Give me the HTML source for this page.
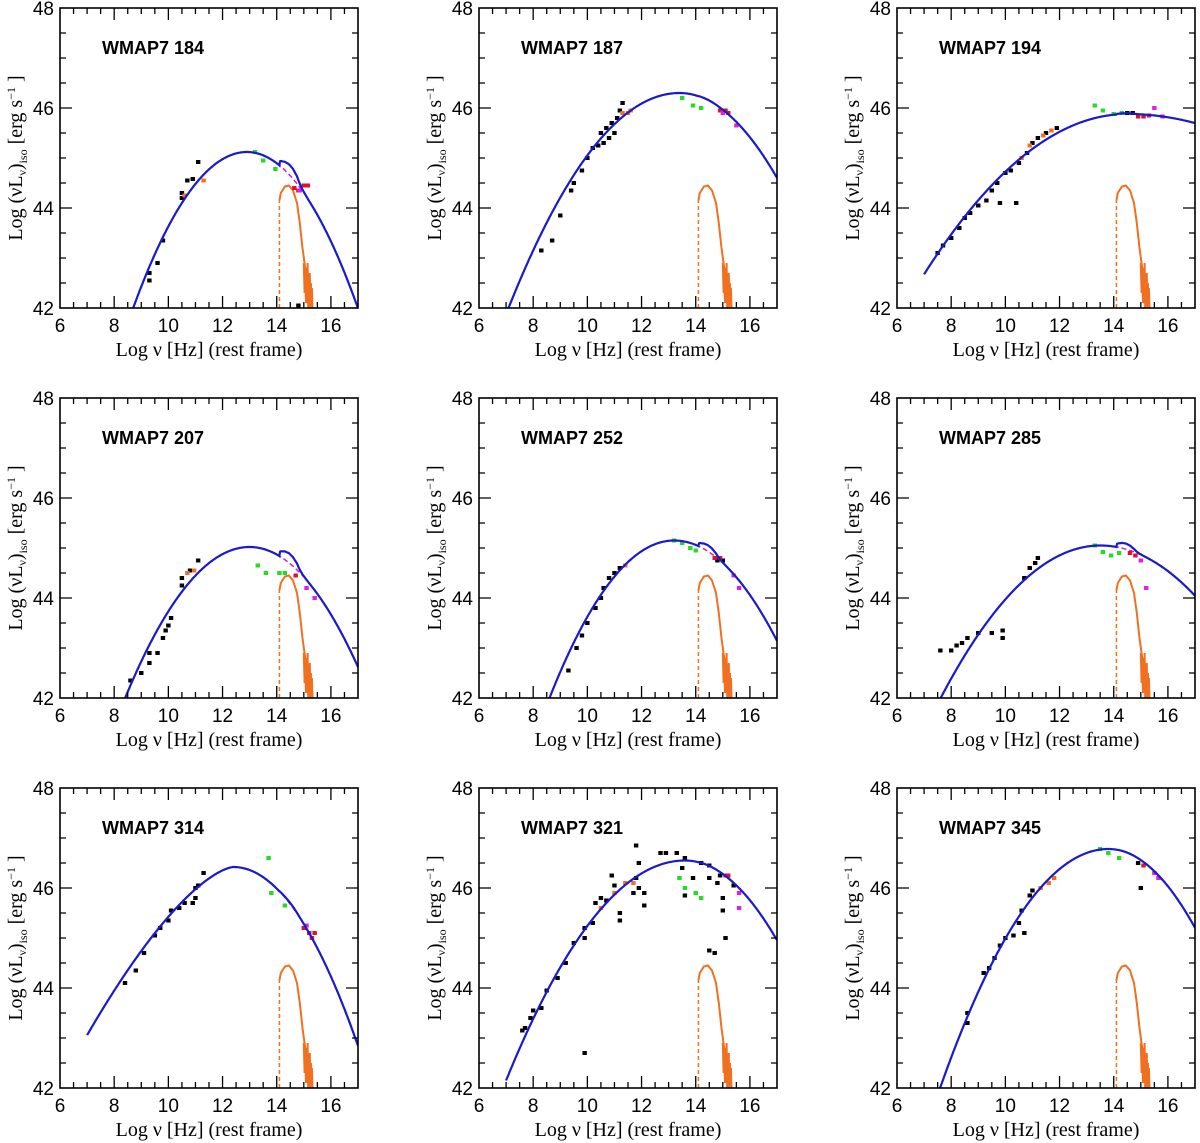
<!DOCTYPE html>
<html><head><meta charset="utf-8"><style>
html,body{margin:0;padding:0;background:#fff;overflow:hidden;width:1200px;height:1143px;}
svg{display:block;}
text{font-family:"Liberation Sans",sans-serif;fill:#000;}
.tl{font-size:19px;}
.ttl{font-family:"Liberation Serif",serif;font-size:20px;}
.lab{font-family:"Liberation Sans",sans-serif;font-weight:bold;font-size:18px;}
</style></head><body>
<svg id="fig" width="1200" height="1143" viewBox="0 0 1200 1143" xmlns="http://www.w3.org/2000/svg"></svg>
<script>
// ---- data ----
const panelNames = ["WMAP7 184","WMAP7 187","WMAP7 194","WMAP7 207","WMAP7 252","WMAP7 285","WMAP7 314","WMAP7 321","WMAP7 345"];
const peakX = [12.9,13.4,14.5,13.0,13.2,13.5,12.4,13.6,13.8];
const peakY = [45.12,46.3,45.88,45.02,45.15,45.05,46.42,46.55,46.78];
const curvL = [0.177,0.108,0.057,0.143,0.149,0.088,0.268,0.101,0.124];
const powL = [2,2,2,2,2,2,1.5,2,2];
const curvR = [0.186,0.131,0.029,0.15,0.139,0.082,0.169,0.138,0.154];
const startX = [6,6,7,6,6,6,7,7,6];
const diskX = [14.1,14.15,14.3,14.45,14.6,14.75,14.85,14.95,15.05,15.1,15.15];
const diskY = [44.15,44.3,44.43,44.45,44.35,44.1,43.7,43.2,42.8,42.5,42.1];
const noiseX = [15.0,15.03,15.05,15.08,15.1,15.12,15.14,15.16,15.18,15.2,15.22,15.24,15.26,15.28,15.3,15.32];
const noiseY = [42.9,42.3,42.7,42.1,42.8,42.2,42.9,42.0,42.6,42.1,42.7,42.0,42.5,42.2,42.4,42.0];
const colorMap = {k:"#000",g:"#22dd22",o:"#f07020",r:"#e0102a",m:"#e020e0"};
const pts = [
 [[9.3,42.7,'k'],[9.3,42.55,'k'],[9.6,42.9,'k'],[9.8,43.35,'k'],[10.5,44.3,'k'],[10.5,44.2,'k'],[10.7,44.55,'k'],[10.9,44.58,'k'],[11.1,44.92,'k'],[14.8,42.05,'k'],[10.6,44.25,'o'],[11.3,44.55,'o'],[13.2,45.12,'g'],[13.5,44.95,'g'],[13.95,44.78,'g'],[14.65,44.4,'r'],[14.8,44.35,'r'],[15.0,44.45,'r'],[15.15,44.45,'r'],[14.85,44.35,'m']],
 [[8.3,43.15,'k'],[8.7,43.35,'k'],[9.0,43.85,'k'],[9.4,44.35,'k'],[9.5,44.5,'k'],[9.8,44.75,'k'],[10,45,'k'],[10.2,45.2,'k'],[10.4,45.25,'k'],[10.5,45.5,'k'],[10.6,45.3,'k'],[10.7,45.6,'k'],[10.8,45.4,'k'],[10.9,45.7,'k'],[11.0,45.5,'k'],[11.1,45.8,'k'],[11.2,45.95,'k'],[11.3,46.1,'k'],[11.3,45.9,'o'],[11.5,45.9,'o'],[11.6,45.95,'o'],[13.5,46.2,'g'],[13.9,46.05,'g'],[14.2,46.0,'g'],[14.9,45.95,'r'],[15.1,45.95,'r'],[15.2,45.9,'r'],[15.5,45.65,'m'],[15.0,45.9,'m']],
 [[7.5,43.1,'k'],[7.7,43.25,'k'],[8.0,43.4,'k'],[8.3,43.6,'k'],[8.5,43.8,'k'],[8.7,43.9,'k'],[9,44.05,'k'],[9.3,44.15,'k'],[9.5,44.35,'k'],[9.7,44.5,'k'],[9.8,44.1,'k'],[10,44.7,'k'],[10.2,44.75,'k'],[10.4,44.1,'k'],[10.5,44.9,'k'],[10.8,45.1,'k'],[11,45.3,'k'],[11.2,45.4,'k'],[11.5,45.5,'k'],[11.9,45.6,'k'],[10.6,45.0,'o'],[10.9,45.25,'o'],[11.4,45.45,'o'],[11.7,45.55,'o'],[13.3,46.05,'g'],[13.6,45.95,'g'],[14.0,45.88,'g'],[14.3,45.9,'g'],[14.5,45.9,'k'],[14.7,45.9,'k'],[14.9,45.83,'r'],[15.1,45.83,'r'],[15.3,45.85,'r'],[15.5,46.0,'m'],[15.8,45.83,'m']],
 [[8.6,42.35,'k'],[9.0,42.5,'k'],[9.3,42.9,'k'],[9.3,42.7,'k'],[9.6,42.9,'k'],[9.8,43.2,'k'],[9.9,43.35,'k'],[10,43.45,'k'],[10.1,43.6,'k'],[10.5,44.4,'k'],[10.5,44.25,'k'],[10.8,44.55,'k'],[11.1,44.75,'k'],[10.7,44.5,'o'],[10.95,44.55,'o'],[13.3,44.65,'g'],[13.6,44.5,'g'],[14.1,44.5,'g'],[14.3,44.5,'g'],[14.7,44.45,'r'],[15.1,44.2,'m'],[15.4,44.0,'m']],
 [[9.3,42.55,'k'],[9.6,43.0,'k'],[9.8,43.25,'k'],[10.0,43.5,'k'],[10.3,43.8,'k'],[10.5,44.0,'k'],[10.6,44.2,'k'],[10.8,44.4,'k'],[11.0,44.5,'k'],[11.2,44.6,'k'],[15.0,44.75,'k'],[14.8,44.75,'k'],[11.4,44.65,'o'],[13.2,45.15,'g'],[13.5,45.1,'g'],[13.8,45.0,'g'],[14.0,44.95,'g'],[14.7,44.8,'r'],[14.9,44.8,'r'],[15.4,44.45,'m'],[15.6,44.2,'m']],
 [[7.6,42.95,'k'],[8.0,42.95,'k'],[8.2,43.05,'k'],[8.4,43.1,'k'],[8.6,43.2,'k'],[9.0,43.3,'k'],[9.5,43.3,'k'],[9.9,43.35,'k'],[9.9,43.2,'k'],[10.7,44.4,'k'],[10.9,44.6,'k'],[11.2,44.8,'k'],[11.1,44.7,'k'],[13.3,45.05,'g'],[13.6,44.92,'g'],[13.9,44.85,'g'],[14.2,44.9,'g'],[14.6,44.9,'r'],[14.8,44.85,'r'],[15.2,44.2,'m'],[15.0,44.75,'m']],
 [[8.4,44.1,'k'],[8.8,44.35,'k'],[9.1,44.7,'k'],[9.5,45.05,'k'],[9.7,45.2,'k'],[10,45.35,'k'],[10.1,45.55,'k'],[10.4,45.6,'k'],[10.6,45.7,'k'],[10.9,45.7,'k'],[11.0,45.8,'k'],[11.1,46.05,'k'],[11.3,46.3,'k'],[11.0,46.0,'k'],[13.7,46.6,'g'],[13.8,45.9,'g'],[14.3,45.65,'g'],[15.0,45.2,'r'],[15.2,45.1,'r'],[15.3,45.0,'r'],[15.4,45.1,'r'],[15.1,45.25,'m']],
 [[7.6,43.15,'k'],[7.7,43.2,'k'],[7.9,43.4,'k'],[8.0,43.55,'k'],[8.3,43.6,'k'],[8.5,43.95,'k'],[8.9,44.2,'k'],[9.2,44.5,'k'],[9.5,44.9,'k'],[9.9,45.2,'k'],[9.9,45.0,'k'],[10.2,45.3,'k'],[10.3,45.7,'k'],[10.5,45.8,'k'],[10.7,45.75,'k'],[10.9,46.25,'k'],[11.0,46.05,'k'],[11.2,45.35,'k'],[11.2,45.5,'k'],[11.7,45.9,'k'],[11.8,46.2,'k'],[11.9,46.5,'k'],[11.8,46.85,'k'],[12.1,45.65,'k'],[12.7,46.7,'k'],[12.9,46.7,'k'],[13.3,46.7,'k'],[13.6,46.6,'k'],[13.6,45.85,'k'],[13.9,46.2,'k'],[14.2,46.5,'k'],[14.5,46.45,'k'],[14.5,46.2,'k'],[14.8,46.1,'k'],[15.0,45.8,'k'],[14.9,46.25,'k'],[15.4,46.05,'k'],[9.9,42.7,'k'],[14.5,44.75,'k'],[14.7,44.7,'k'],[15.1,45.0,'k'],[15.0,45.55,'k'],[13.5,46.4,'k'],[12.1,45.9,'k'],[11.9,46.0,'k'],[13.4,46.2,'g'],[13.6,46.0,'g'],[14.0,45.9,'g'],[14.2,45.8,'g'],[10.5,45.6,'o'],[11.0,45.9,'o'],[11.4,46.1,'o'],[11.7,46.1,'o'],[15.1,46.25,'r'],[15.2,46.25,'r'],[15.6,45.9,'m'],[15.6,45.6,'m']],
 [[8.6,43.5,'k'],[8.6,43.3,'k'],[9.2,44.3,'k'],[9.4,44.4,'k'],[9.6,44.6,'k'],[9.8,44.85,'k'],[10.0,45.0,'k'],[10.3,45.05,'k'],[10.5,45.3,'k'],[10.6,45.55,'k'],[10.7,45.1,'k'],[10.9,45.85,'k'],[11.0,45.95,'k'],[15.0,46.0,'k'],[14.9,46.5,'k'],[11.3,46.0,'o'],[11.6,46.1,'o'],[11.8,46.2,'o'],[13.5,46.78,'g'],[13.8,46.7,'g'],[14.2,46.6,'g'],[15.1,46.45,'r'],[15.5,46.3,'m'],[15.65,46.2,'m']]
];
const xTicks = [6,8,10,12,14,16];
const yTicks = [42,44,46,48];
// ---- layout ----
const NS="http://www.w3.org/2000/svg";
const svg=document.getElementById('fig');
const lefts=[60,479,897], tops=[8,398,788], W=298, H=300;
function mk(tag,attrs,parent){const e=document.createElementNS(NS,tag);for(const k in attrs)e.setAttribute(k,attrs[k]);(parent||svg).appendChild(e);return e;}
function diskAt(x){
  if(x<diskX[0]||x>diskX[diskX.length-1])return null;
  for(let i=0;i<diskX.length-1;i++){if(x>=diskX[i]&&x<=diskX[i+1]){const t=(x-diskX[i])/(diskX[i+1]-diskX[i]);return diskY[i]+t*(diskY[i+1]-diskY[i]);}}
  return null;
}
for(let p=0;p<9;p++){
  const L=lefts[p%3], T=tops[Math.floor(p/3)];
  const sx=v=>L+(v-6)/11*W, sy=v=>T+(48-v)/6*H;
  const g=mk('g',{});
  
  
  const cid='clip'+p;
  const cp=mk('clipPath',{id:cid},g); mk('rect',{x:L,y:T,width:W,height:H},cp);
  const plot=mk('g',{'clip-path':'url(#'+cid+')'},g);
  let d='M'+sx(diskX[0])+','+sy(42)+'L'+sx(diskX[0])+','+sy(diskY[0]);
  const dv=mk('path',{d:d,stroke:'#f07020','stroke-width':1.5,fill:'none','stroke-dasharray':'4 3'},plot);
  
  
  let dd='';diskX.forEach((x,i)=>{dd+=(i?'L':'M')+sx(x).toFixed(1)+','+sy(diskY[i]).toFixed(1);});
  noiseX.forEach((x,i)=>{dd+='L'+sx(x).toFixed(1)+','+sy(noiseY[i]).toFixed(1);});
  const dc=mk('path',{d:dd,stroke:'#f07020','stroke-width':2,fill:'none'},plot);
  
  
  const sync=x=>x<peakX[p]?peakY[p]-curvL[p]*Math.pow(peakX[p]-x,powL[p]):peakY[p]-curvR[p]*(x-peakX[p])**2;
  let md='';for(let x=14.0;x<=15.0001;x+=0.02){md+=(md?'L':'M')+sx(x).toFixed(1)+','+sy(sync(x)).toFixed(1);}
  const mline=mk('path',{d:md,stroke:'#cc22cc','stroke-width':1.5,fill:'none','stroke-dasharray':'5 3'},plot);
  
  
  pts[p].forEach(q=>{
    const r=mk('rect',{x:sx(q[0])-2.2,y:sy(q[1])-2,width:4.4,height:4,fill:colorMap[q[2]]},plot);
    
    
  });
  let bd='';for(let x=startX[p];x<=17.0001;x+=0.02){const s=sync(x);const dk=diskAt(x);const y=dk===null?s:Math.log10(10**s+10**dk);bd+=(bd?'L':'M')+sx(x).toFixed(1)+','+sy(y).toFixed(1);}
  const bl=mk('path',{d:bd,stroke:'#1a1acc','stroke-width':2.2,fill:'none'},plot);
  
  
  const fr=mk('rect',{x:L,y:T,width:W,height:H,fill:'none',stroke:'#000','stroke-width':1.6},g);
  
  
  let tk='';
  for(let v=6.5;v<17;v+=0.5){const X=sx(v);const len=(Math.abs(v/2-Math.round(v/2))<1e-6)?12:6;tk+=`M${X},${T+H}v${-len}M${X},${T}v${len}`;}
  for(let v=42.5;v<48;v+=0.5){const Y=sy(v);const len=(Math.abs(v/2-Math.round(v/2))<1e-6)?12:6;tk+=`M${L},${Y}h${len}M${L+W},${Y}h${-len}`;}
  const tp=mk('path',{d:tk,stroke:'#000','stroke-width':1.3,fill:'none'},g);
  
  
  xTicks.forEach(v=>{const t=mk('text',{x:sx(v),y:T+H+24,'text-anchor':'middle',class:'tl'},g);t.textContent=v;
    
    });
  yTicks.forEach(v=>{const t=mk('text',{x:L-6,y:sy(v)+7,'text-anchor':'end',class:'tl'},g);t.textContent=v;
    
    });
  const xt=mk('text',{x:L+W/2,y:T+H+48,'text-anchor':'middle',class:'ttl'},g);
  xt.textContent='Log \u03BD [Hz] (rest frame)';
  
  
  const yt=mk('text',{x:0,y:0,'text-anchor':'middle',class:'ttl',transform:`translate(${L-38},${T+H/2}) rotate(-90)`},g);
  yt.innerHTML='Log (\u03BDL<tspan font-size="12" dy="4">\u03BD</tspan><tspan dy="-4">)</tspan><tspan font-size="12" dy="5">iso</tspan><tspan dy="-5"> [erg s</tspan><tspan font-size="12" dy="-7">\u22121</tspan><tspan dy="7"> ]</tspan>';
  
  
  const lb=mk('text',{x:L+42,y:T+46,class:'lab'},g);
  lb.textContent=panelNames[p];
  
  
}
</script>
</body></html>
